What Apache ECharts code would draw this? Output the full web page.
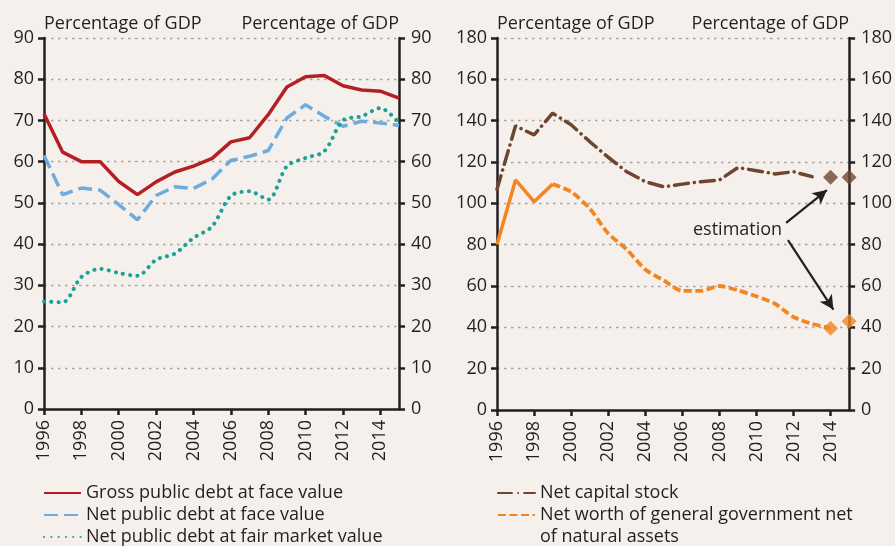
<!DOCTYPE html>
<html>
<head>
<meta charset="utf-8">
<script src="https://cdn.jsdelivr.net/npm/echarts@6/dist/echarts.min.js"></script>
<style>
  html, body { margin: 0; padding: 0; background: #f6f0ed; }
  #chart { width: 895px; height: 546px; }
</style>
</head>
<body>
<div id="chart"></div>
<script>
// years on the x axis
const years = [1996, 1997, 1998, 1999, 2000, 2001, 2002, 2003, 2004, 2005,
  2006, 2007, 2008, 2009, 2010, 2011, 2012, 2013, 2014, 2015];
const yearTicks = [1996, 1998, 2000, 2002, 2004, 2006, 2008, 2010, 2012, 2014];

// left panel, % of GDP
const grossDebt = [71.6, 62.3, 60, 60, 55.2, 52, 55.1, 57.5, 58.9, 60.8,
  64.8, 65.8, 71.4, 78.1, 80.6, 80.9, 78.4, 77.4, 77.1, 75.4];
const netDebtFace = [61.5, 52, 53.6, 53.1, 49.6, 45.9, 51.8, 53.9, 53.5, 55.8,
  60.3, 61.3, 62.7, 70.6, 73.8, 71, 68.6, 69.8, 69.4, 68.8];
const netDebtMarket = [26.1, 25.9, 32, 34, 33, 32.3, 36.2, 37.7, 41.5, 44.3,
  51.7, 52.8, 50.8, 58.9, 60.9, 62.5, 70, 71, 73, 69.4];

// right panel, % of GDP; lines end before the 2014-2015 estimates
const capitalStock = [106.8, 137.5, 133.1, 143.6, 138, 129.9, 122.3, 115.3, 110.5, 108,
  109.3, 110.5, 111.3, 117.3, 115.8, 114.2, 115.3, 112.9];
const netWorth = [80.1, 111.3, 100.8, 109.3, 105.6, 97.5, 85.4, 77.7, 68, 62.7,
  57.6, 57.6, 60, 57.9, 55, 51.4, 45, 41.7, 39.6];
const estimateYears = [2014, 2015];
const capitalEstimate = [112.6, 112.6];
const netWorthEstimate = [39.6, 43];

// annotation arrows (data coords of right panel)
const arrowUp = [[2011.6, 90.5], [2013.8, 106.4]];
const arrowDown = [[2011.7, 82.2], [2014.15, 48.6]];

const FONT = '"Open Sans", Lato, sans-serif';
const INK = '#231f20';
const RED = '#b22024';
const BLUE = '#6fabdc';
const TEAL = '#19a394';
const BROWN = '#6e4630';
const ORANGE = '#f4861f';

function pairs(xs, ys) {
  return ys.map((v, i) => [xs[i], v]);
}

function xAxisFor(gridIndex) {
  return {
    type: 'value',
    gridIndex,
    min: 1996,
    max: 2015,
    interval: 2,
    axisLine: { lineStyle: { color: INK, width: 2.5 } },
    axisTick: { show: true, customValues: yearTicks, length: 6, lineStyle: { color: INK, width: 2.5 } },
    axisLabel: {
      customValues: yearTicks,
      rotate: 90,
      margin: 11,
      fontSize: 18,
      fontFamily: FONT,
      color: INK,
      formatter: v => String(v)
    },
    splitLine: { show: false }
  };
}

function yAxisFor(gridIndex, position, max, interval, withGrid) {
  const left = position === 'left';
  return {
    type: 'value',
    gridIndex,
    position,
    min: 0,
    max,
    interval,
    name: 'Percentage of GDP',
    nameLocation: 'end',
    nameGap: 14,
    nameTextStyle: {
      fontSize: 18,
      fontFamily: FONT,
      color: INK,
      align: left ? 'left' : 'right',
      verticalAlign: 'middle'
    },
    axisLine: { show: true, lineStyle: { color: INK, width: 2.5 } },
    axisTick: { show: true, length: 6, lineStyle: { color: INK, width: 2.5 } },
    axisLabel: { margin: left ? 10 : 12, fontSize: 18, fontFamily: FONT, color: INK },
    splitLine: withGrid
      ? { show: true, lineStyle: { color: '#a3a3a3', width: 1.4, type: [2.5, 4.5] } }
      : { show: false }
  };
}

function legendBox(left, data, formatter) {
  return {
    left,
    top: 482,
    height: 120,
    orient: 'vertical',
    padding: 0,
    itemGap: 0,
    itemWidth: 37,
    itemHeight: 14,
    itemStyle: { opacity: 0 },
    formatter: formatter || (name => name),
    textStyle: { fontSize: 18, lineHeight: 22, color: INK, fontFamily: FONT },
    data
  };
}

const chart = echarts.init(document.getElementById('chart'));

chart.setOption({
  animation: false,
  backgroundColor: '#f6f0ed',
  textStyle: { fontFamily: FONT },
  grid: [
    { left: 44, right: 496, top: 38, bottom: 137 },
    { left: 497, right: 44, top: 38, bottom: 136 }
  ],
  xAxis: [xAxisFor(0), xAxisFor(1)],
  yAxis: [
    yAxisFor(0, 'left', 90, 10, true),
    yAxisFor(0, 'right', 90, 10, false),
    yAxisFor(1, 'left', 180, 20, true),
    yAxisFor(1, 'right', 180, 20, false)
  ],
  legend: [
    legendBox(43, ['Gross public debt at face value', 'Net public debt at face value',
      'Net public debt at fair market value']),
    legendBox(497, ['Net capital stock']),
    // leading empty line keeps the first text line level with the icon
    legendBox(497, ['Net worth of general government net\nof natural assets'], name => '\n' + name)
  ],
  graphic: [
    {
      type: 'text',
      left: 693,
      top: 221,
      style: { text: 'estimation', fontSize: 18, fontFamily: FONT, fill: INK }
    }
  ],
  series: [
    {
      name: 'Gross public debt at face value',
      type: 'line',
      xAxisIndex: 0,
      yAxisIndex: 0,
      symbol: 'none',
      data: pairs(years, grossDebt),
      lineStyle: { color: RED, width: 3.5 },
      itemStyle: { color: RED },
      z: 4
    },
    {
      name: 'Net public debt at face value',
      type: 'line',
      xAxisIndex: 0,
      yAxisIndex: 0,
      symbol: 'none',
      data: pairs(years, netDebtFace),
      lineStyle: { color: BLUE, width: 3.5, type: [14, 6] },
      itemStyle: { color: BLUE },
      z: 3
    },
    {
      name: 'Net public debt at fair market value',
      type: 'line',
      xAxisIndex: 0,
      yAxisIndex: 0,
      symbol: 'none',
      smooth: 0.3,
      data: pairs(years, netDebtMarket),
      lineStyle: { color: TEAL, width: 4, type: [0.1, 7.2], cap: 'round' },
      itemStyle: { color: TEAL },
      z: 3
    },
    {
      name: 'Net capital stock',
      type: 'line',
      xAxisIndex: 1,
      yAxisIndex: 2,
      symbol: 'none',
      data: pairs(years, capitalStock),
      lineStyle: { color: BROWN, width: 3.5, type: [14, 6, 0.1, 6], cap: 'round' },
      itemStyle: { color: BROWN },
      z: 3,
      markLine: {
        silent: true,
        symbol: ['none', 'arrow'],
        symbolSize: [11, 14],
        label: { show: false },
        lineStyle: { color: INK, width: 2.2, type: 'solid' },
        data: [
          [{ coord: arrowUp[0] }, { coord: arrowUp[1] }],
          [{ coord: arrowDown[0] }, { coord: arrowDown[1] }]
        ]
      }
    },
    {
      name: 'Net worth solid start',
      type: 'line',
      xAxisIndex: 1,
      yAxisIndex: 2,
      symbol: 'none',
      data: pairs(years, netWorth).slice(0, 4),
      lineStyle: { color: ORANGE, width: 3.5 },
      itemStyle: { color: ORANGE },
      z: 3
    },
    {
      name: 'Net worth of general government net\nof natural assets',
      type: 'line',
      xAxisIndex: 1,
      yAxisIndex: 2,
      symbol: 'none',
      smooth: 0.25,
      data: pairs(years, netWorth).slice(3),
      lineStyle: { color: ORANGE, width: 3.8, type: [8, 3.5] },
      itemStyle: { color: ORANGE },
      z: 3
    },
    {
      name: 'Net capital stock estimate',
      type: 'scatter',
      xAxisIndex: 1,
      yAxisIndex: 2,
      symbol: 'diamond',
      symbolSize: 15,
      clip: false,
      data: pairs(estimateYears, capitalEstimate),
      itemStyle: { color: BROWN },
      z: 5
    },
    {
      name: 'Net worth estimate',
      type: 'scatter',
      xAxisIndex: 1,
      yAxisIndex: 2,
      symbol: 'diamond',
      symbolSize: 15,
      clip: false,
      data: pairs(estimateYears, netWorthEstimate),
      itemStyle: { color: ORANGE },
      z: 5
    }
  ]
});
</script>
</body>
</html>
